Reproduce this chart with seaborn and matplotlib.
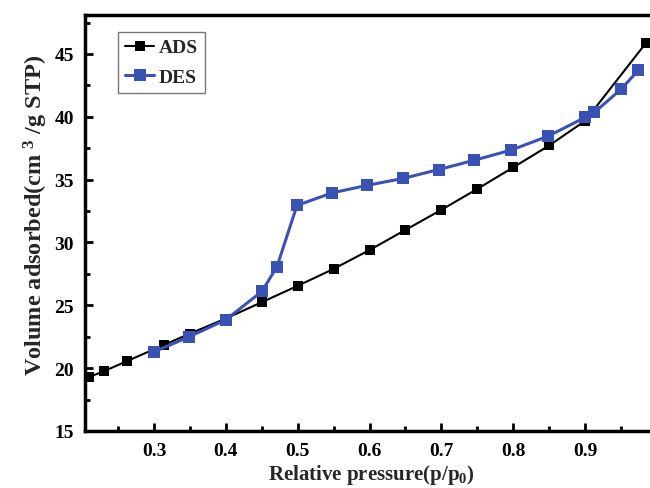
import matplotlib
matplotlib.use("Agg")
import matplotlib.pyplot as plt
import seaborn as sns
import pandas as pd
from matplotlib.ticker import MultipleLocator

ads_x = [0.21, 0.230, 0.262, 0.314, 0.350, 0.400, 0.450, 0.500, 0.550, 0.600, 0.650, 0.700, 0.750, 0.800, 0.850, 0.900, 0.985]
ads_y = [19.3, 19.75, 20.55, 21.85, 22.75, 23.95, 25.25, 26.55, 27.9, 29.4, 31.0, 32.6, 34.26, 35.98, 37.72, 39.68, 45.9]

des_x = [0.300, 0.349, 0.400, 0.450, 0.471, 0.499, 0.548, 0.597, 0.647, 0.696, 0.746, 0.797, 0.848, 0.900, 0.913, 0.950, 0.974]
des_y = [21.3, 22.5, 23.85, 26.1, 28.05, 32.95, 33.95, 34.55, 35.1, 35.8, 36.55, 37.35, 38.45, 39.95, 40.35, 42.2, 43.7]

series_labels = ["ADS", "DES"]

sns.set_style("ticks")
plt.rcParams['font.family'] = ['Liberation Serif', 'DejaVu Serif']
plt.rcParams['mathtext.fontset'] = 'custom'
plt.rcParams['mathtext.rm'] = 'Liberation Serif:bold'
plt.rcParams['mathtext.it'] = 'Liberation Serif:bold'
plt.rcParams['mathtext.bf'] = 'Liberation Serif:bold'

fig = plt.figure(figsize=(6.5, 4.89), dpi=100)
ax = fig.add_axes([85/650, 57/489, 572/650, 416/489])

df_ads = pd.DataFrame({"x": ads_x, "y": ads_y})
df_des = pd.DataFrame({"x": des_x, "y": des_y})

sns.lineplot(data=df_ads, x="x", y="y", ax=ax, sort=False, color="black",
             linewidth=1.5, marker="s", markersize=7, markeredgewidth=0,
             label=series_labels[0])
sns.lineplot(data=df_des, x="x", y="y", ax=ax, sort=False, color="#3a52b4",
             linewidth=2.2, marker="s", markersize=8, markeredgewidth=0,
             label=series_labels[1])

ax.set_xlim(0.204, 1.0)
ax.set_ylim(15, 48.1)
ax.xaxis.set_major_locator(MultipleLocator(0.1))
ax.xaxis.set_minor_locator(MultipleLocator(0.05))
ax.yaxis.set_major_locator(MultipleLocator(5))
ax.yaxis.set_minor_locator(MultipleLocator(2.5))
ax.set_xticks([0.3, 0.4, 0.5, 0.6, 0.7, 0.8, 0.9])
ax.set_xticklabels(["0.3", "0.4", "0.5", "0.6", "0.7", "0.8", "0.9"])

ax.tick_params(which="both", direction="in", width=2, colors="black")
ax.tick_params(which="major", length=6, labelsize=14, pad=8)
ax.tick_params(which="minor", length=3.5)
for lab in ax.get_xticklabels() + ax.get_yticklabels():
    lab.set_fontweight("bold")

for sp in ax.spines.values():
    sp.set_linewidth(2.5)
    sp.set_color("black")

ax.set_xlabel("Relative pressure(p/p$_0$)", fontsize=15, fontweight="bold", labelpad=2)
ax.set_ylabel("Volume adsorbed(cm $^{3}$ /g STP)", fontsize=17.5, fontweight="bold")
ax.yaxis.set_label_coords(-0.062, 0.52)

leg = ax.legend(loc="upper left", bbox_to_anchor=(0.058, 0.959), frameon=True,
                borderaxespad=0, fancybox=False, edgecolor="#555555",
                handlelength=1.5, handletextpad=0.25, borderpad=0.35,
                labelspacing=0.6,
                prop={"family": "Liberation Serif", "weight": "bold", "size": 14})
leg.get_frame().set_linewidth(1.0)

fig.savefig("out.png", dpi=100)
